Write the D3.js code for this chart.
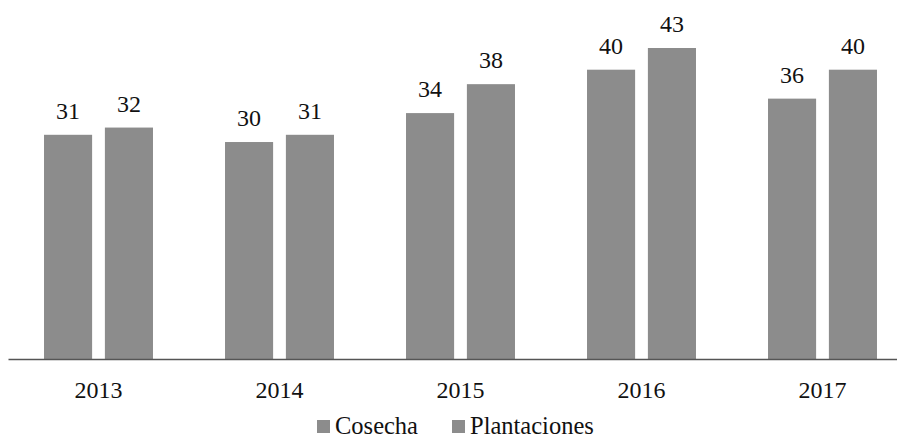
<!DOCTYPE html>
<html>
<head>
<meta charset="utf-8">
<script src="https://cdn.jsdelivr.net/npm/d3@7"></script>
<style>
  html, body { margin: 0; padding: 0; background: #fff; }
  svg text { font-family: "Liberation Serif", "Times New Roman", Times, "DejaVu Serif", serif !important; }
</style>
</head>
<body>
<svg id="chart" width="897" height="438"></svg>
<script>
const years = ["2013", "2014", "2015", "2016", "2017"];
const seriesNames = ["Cosecha", "Plantaciones"];
const cosecha = [31, 30, 34, 40, 36];
const plantaciones = [32, 31, 38, 43, 40];

const svg = d3.select("#chart");
const baseline = 359;
const barColor = "#8c8c8c";
const serif = '"Liberation Serif", "Times New Roman", Times, serif';

const data = years.map((y, i) => ({ year: y, values: [cosecha[i], plantaciones[i]] }));

const x0 = d3.scaleBand().domain(years).range([8, 913]).padding(0);
const bw = x0.bandwidth();
const x1 = d3.scaleBand().domain(seriesNames).range([bw * 0.199, bw * 0.801]).paddingInner(0.21).paddingOuter(0);
const y = d3.scaleLinear().domain([0, 43]).range([baseline, 48]);

const groups = svg.append("g").selectAll("g")
  .data(data).join("g")
  .attr("transform", d => `translate(${x0(d.year)},0)`);

groups.selectAll("rect")
  .data(d => d.values.map((v, j) => ({ name: seriesNames[j], value: v })))
  .join("rect")
  .attr("x", d => x1(d.name))
  .attr("width", x1.bandwidth())
  .attr("y", d => y(d.value))
  .attr("height", d => y(0) - y(d.value))
  .attr("fill", barColor);

groups.selectAll("text.val")
  .data(d => d.values.map((v, j) => ({ name: seriesNames[j], value: v })))
  .join("text")
  .attr("class", "val")
  .attr("x", d => x1(d.name) + x1.bandwidth() / 2)
  .attr("y", d => y(d.value) - 16)
  .attr("text-anchor", "middle")
  .attr("font-size", 24)
  .style("font-family", serif)
  .attr("fill", "#111")
  .text(d => d.value);

const axis = svg.append("g")
  .attr("transform", `translate(0,${baseline})`)
  .call(d3.axisBottom(x0).tickSize(0).tickSizeOuter(0));
axis.attr("font-family", null);
axis.select(".domain").attr("stroke", "#555").attr("stroke-width", 1.6);
axis.selectAll("text")
  .attr("y", 39).attr("dy", 0)
  .attr("font-size", 24)
  .style("font-family", serif)
  .attr("fill", "#111");

const legend = svg.append("g");
const legendX = [317, 452];
seriesNames.forEach((name, i) => {
  legend.append("rect")
    .attr("x", legendX[i]).attr("y", 420)
    .attr("width", 13).attr("height", 13)
    .attr("fill", barColor);
  legend.append("text")
    .attr("x", legendX[i] + 18).attr("y", 434)
    .attr("font-size", 24.5)
    .style("font-family", serif)
    .attr("fill", "#111")
    .text(name);
});
</script>
</body>
</html>
